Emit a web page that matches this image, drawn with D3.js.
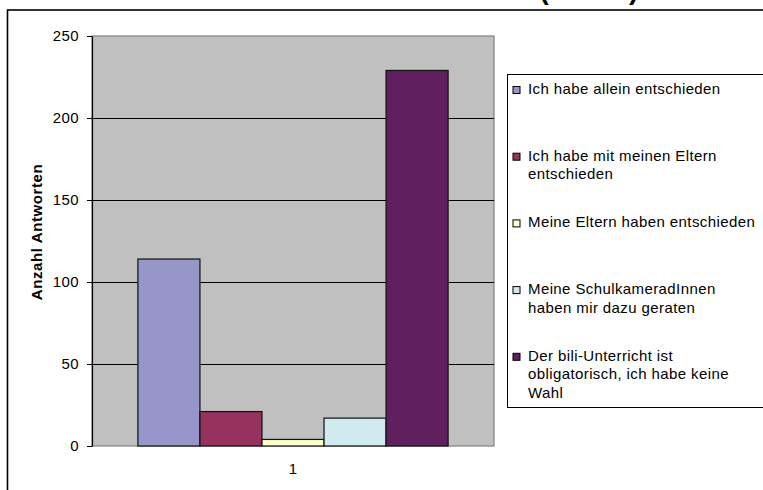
<!DOCTYPE html>
<html>
<head>
<meta charset="utf-8">
<script src="https://cdnjs.cloudflare.com/ajax/libs/d3/7.8.5/d3.min.js"></script>
<style>
    body { margin: 0; background: #fff; }
    text { font-family: "Liberation Sans", Arial, sans-serif; }
</style>
</head>
<body>
<div id="chart-area"></div>
<script>

// Data
var categories = ["1"];
var seriesNames = [
    "Ich habe allein entschieden",
    "Ich habe mit meinen Eltern\nentschieden",
    "Meine Eltern haben entschieden",
    "Meine SchulkameradInnen\nhaben mir dazu geraten",
    "Der bili-Unterricht ist\nobligatorisch, ich habe keine\nWahl"
];
var seriesValues = [114, 21, 4, 17, 229];
var seriesColors = ["#9896c8", "#96325e", "#ffffcc", "#cfebf0", "#601f5f"];
var yTicks = [0, 50, 100, 150, 200, 250];
var titleText = "(n=385)";
var yTitle = "Anzahl Antworten";

var W = 763, H = 490;
var plot = { left: 92, right: 494, top: 36, bottom: 446 };

var svg = d3.select("#chart-area").append("svg")
    .attr("width", W)
    .attr("height", H);

// Outer chart border (cropped on the right and bottom)
svg.append("rect")
    .attr("x", 7.5)
    .attr("y", 10)
    .attr("width", 800)
    .attr("height", 500)
    .attr("fill", "#fff")
    .attr("stroke", "#000")
    .attr("stroke-width", 1.6);

// Title, cut off at the top of the picture as in the original
svg.append("text")
    .attr("x", 589)
    .attr("y", -1.5)
    .attr("text-anchor", "middle")
    .attr("font-size", "28px")
    .attr("font-weight", "bold")
    .text(titleText);

// Scales
var x0 = d3.scaleBand()
    .domain(categories)
    .range([plot.left, plot.right])
    .paddingInner(0)
    .paddingOuter(0.148);

var x1 = d3.scaleBand()
    .domain(d3.range(seriesNames.length))
    .range([0, x0.bandwidth()]);

var y = d3.scaleLinear()
    .domain([0, 250])
    .range([plot.bottom, plot.top]);

// Plot area
svg.append("rect")
    .attr("x", plot.left)
    .attr("y", plot.top)
    .attr("width", plot.right - plot.left)
    .attr("height", plot.bottom - plot.top)
    .attr("fill", "#c0c0c0")
    .attr("stroke", "#808080")
    .attr("stroke-width", 1.2);

// Gridlines
svg.append("g")
    .selectAll("line")
    .data(yTicks.filter(function(d){ return d > 0 && d < 250; }))
    .enter().append("line")
    .attr("x1", plot.left)
    .attr("x2", plot.right)
    .attr("y1", function(d){ return Math.round(y(d)) + 0.5; })
    .attr("y2", function(d){ return Math.round(y(d)) + 0.5; })
    .attr("stroke", "#000")
    .attr("stroke-width", 1);

// Bars
var group = svg.append("g")
    .attr("transform", "translate(" + x0(categories[0]) + ",0)");

group.selectAll("rect")
    .data(seriesValues)
    .enter().append("rect")
    .attr("x", function(d, i){ return x1(i); })
    .attr("y", function(d){ return y(d); })
    .attr("width", x1.bandwidth())
    .attr("height", function(d){ return y(0) - y(d); })
    .attr("fill", function(d, i){ return seriesColors[i]; })
    .attr("stroke", "#111")
    .attr("stroke-width", 1.2);

// Y axis
var yAxisCall = d3.axisLeft(y)
    .tickValues(yTicks)
    .tickSizeInner(5)
    .tickSizeOuter(0)
    .tickPadding(8);

var yAxis = svg.append("g")
    .attr("transform", "translate(" + plot.left + ",0)")
    .call(yAxisCall);

yAxis.select(".domain").attr("stroke", "#000").attr("stroke-width", 1.2);
yAxis.selectAll(".tick line").attr("stroke", "#000");
yAxis.selectAll(".tick text")
    .attr("font-size", "15px")
    .attr("letter-spacing", "0.4px")
    .attr("fill", "#000")
    .style("font-family", "'Liberation Sans', Arial, sans-serif");

// X axis label
var xAxisCall = d3.axisBottom(x0)
    .tickSize(0)
    .tickPadding(17);

var xAxis = svg.append("g")
    .attr("transform", "translate(0," + plot.bottom + ")")
    .call(xAxisCall);

xAxis.select(".domain").remove();
xAxis.selectAll(".tick text")
    .attr("font-size", "15px")
    .attr("fill", "#000")
    .style("font-family", "'Liberation Sans', Arial, sans-serif");

// Y axis title
svg.append("text")
    .attr("transform", "translate(42,232) rotate(-90)")
    .attr("text-anchor", "middle")
    .attr("font-size", "15px")
    .attr("font-weight", "bold")
    .attr("letter-spacing", "0.6px")
    .text(yTitle);

// Legend
var legend = svg.append("g");

legend.append("rect")
    .attr("x", 507.5)
    .attr("y", 74.5)
    .attr("width", 300)
    .attr("height", 333)
    .attr("fill", "#fff")
    .attr("stroke", "#000")
    .attr("stroke-width", 1);

var entry = legend.selectAll(".entry")
    .data(seriesNames)
    .enter().append("g")
    .attr("class", "entry")
    .attr("transform", function(d, i){ return "translate(0," + (94 + i * 66.7) + ")"; });

entry.append("rect")
    .attr("x", 513)
    .attr("y", -7.5)
    .attr("width", 7)
    .attr("height", 7)
    .attr("fill", function(d, i){ return seriesColors[i]; })
    .attr("stroke", "#000")
    .attr("stroke-width", 1);

entry.append("text")
    .attr("font-size", "15px")
    .attr("letter-spacing", "0.4px")
    .each(function(d){
        var lines = d.split("\n");
        var t = d3.select(this);
        lines.forEach(function(l, j){
            t.append("tspan")
                .attr("x", 528)
                .attr("y", j * 18.6)
                .text(l);
        });
    });

</script>
</body>
</html>
